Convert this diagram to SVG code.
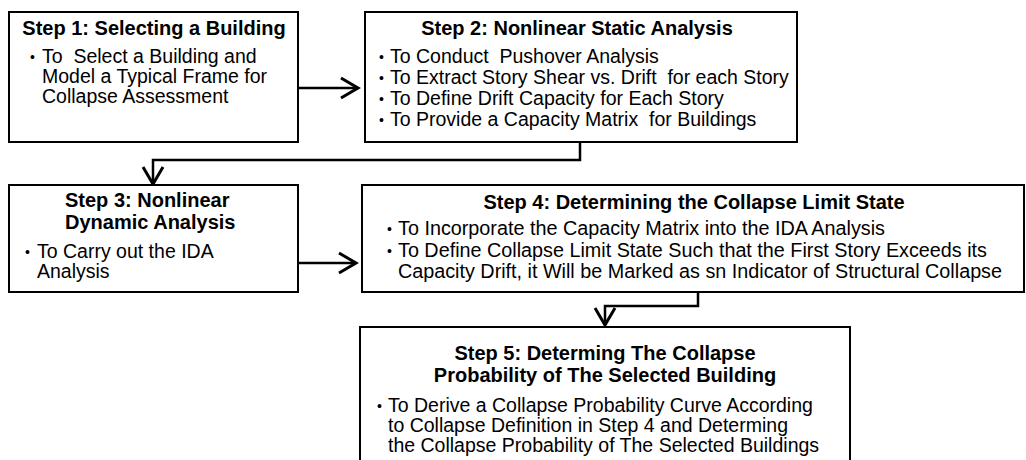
<svg xmlns="http://www.w3.org/2000/svg" width="1026" height="460" viewBox="0 0 1026 460">
<style>
.box{fill:#fff;stroke:#000;stroke-width:2}
.t{font-family:"Liberation Sans",Arial,sans-serif;font-weight:bold;font-size:20px;fill:#000}
.b{font-family:"Liberation Sans",Arial,sans-serif;font-size:19.5px;fill:#000;white-space:pre}
.d{font-family:"Liberation Sans",Arial,sans-serif;font-size:14px;fill:#000}
.c{fill:none;stroke:#000;stroke-width:2.5}
</style>
<defs>
<marker id="ah" markerUnits="userSpaceOnUse" markerWidth="24" markerHeight="26" refX="18" refY="11" orient="auto" overflow="visible">
<path d="M1,1 L18,11 L1,21" fill="none" stroke="#000" stroke-width="3" stroke-linejoin="miter"/>
</marker>
</defs>
<g id="connectors">
<path class="c" d="M298,88 L358,88" stroke-width="4" marker-end="url(#ah)"/>
<path class="c" d="M580,142 L580,160 L153,160 L153,184" stroke-width="2" marker-end="url(#ah)"/>
<path class="c" d="M298,263 L356,263" stroke-width="3" marker-end="url(#ah)"/>
<path class="c" d="M698,292 L698,306 L605,306 L605,325" stroke-width="2" marker-end="url(#ah)"/>
</g>
<g id="step1">
<rect class="box" x="9" y="12" width="289" height="130"/>
<text class="t" x="154" y="35" text-anchor="middle">Step 1: Selecting a Building</text>
<text class="d" x="30" y="62">•</text>
<text class="b" x="42" y="63">To  Select a Building and</text>
<text class="b" x="42" y="83">Model a Typical Frame for</text>
<text class="b" x="42" y="103">Collapse Assessment</text>
</g>
<g id="step2">
<rect class="box" x="365" y="12" width="432" height="130"/>
<text class="t" x="577" y="35" text-anchor="middle">Step 2: Nonlinear Static Analysis</text>
<text class="d" x="379" y="62">•</text>
<text class="b" x="390" y="63">To Conduct  Pushover Analysis</text>
<text class="d" x="379" y="83">•</text>
<text class="b" x="390" y="84">To Extract Story Shear vs. Drift  for each Story</text>
<text class="d" x="379" y="104">•</text>
<text class="b" x="390" y="105">To Define Drift Capacity for Each Story</text>
<text class="d" x="379" y="125">•</text>
<text class="b" x="390" y="126">To Provide a Capacity Matrix  for Buildings</text>
</g>
<g id="step3">
<rect class="box" x="9" y="185" width="289" height="107"/>
<text class="t" x="65" y="207">Step 3: Nonlinear</text>
<text class="t" x="65" y="229">Dynamic Analysis</text>
<text class="d" x="25" y="257">•</text>
<text class="b" x="37" y="258">To Carry out the IDA</text>
<text class="b" x="37" y="278">Analysis</text>
</g>
<g id="step4">
<rect class="box" x="362" y="185" width="662" height="107"/>
<text class="t" x="694" y="209" text-anchor="middle">Step 4: Determining the Collapse Limit State</text>
<text class="d" x="387" y="234">•</text>
<text class="b" x="398" y="235" textLength="487" lengthAdjust="spacingAndGlyphs">To Incorporate the Capacity Matrix into the IDA Analysis</text>
<text class="d" x="387" y="256">•</text>
<text class="b" x="398" y="257" textLength="589" lengthAdjust="spacingAndGlyphs">To Define Collapse Limit State Such that the First Story Exceeds its</text>
<text class="b" x="398" y="278" textLength="604" lengthAdjust="spacingAndGlyphs">Capacity Drift, it Will be Marked as sn Indicator of Structural Collapse</text>
</g>
<g id="step5">
<rect class="box" x="360" y="327" width="490" height="150"/>
<text class="t" x="605" y="360" text-anchor="middle">Step 5: Determing The Collapse</text>
<text class="t" x="605" y="382" text-anchor="middle">Probability of The Selected Building</text>
<text class="d" x="377" y="411">•</text>
<text class="b" x="388" y="412">To Derive a Collapse Probability Curve According</text>
<text class="b" x="388" y="432">to Collapse Definition in Step 4 and Determing</text>
<text class="b" x="388" y="452">the Collapse Probability of The Selected Buildings</text>
</g>
</svg>
